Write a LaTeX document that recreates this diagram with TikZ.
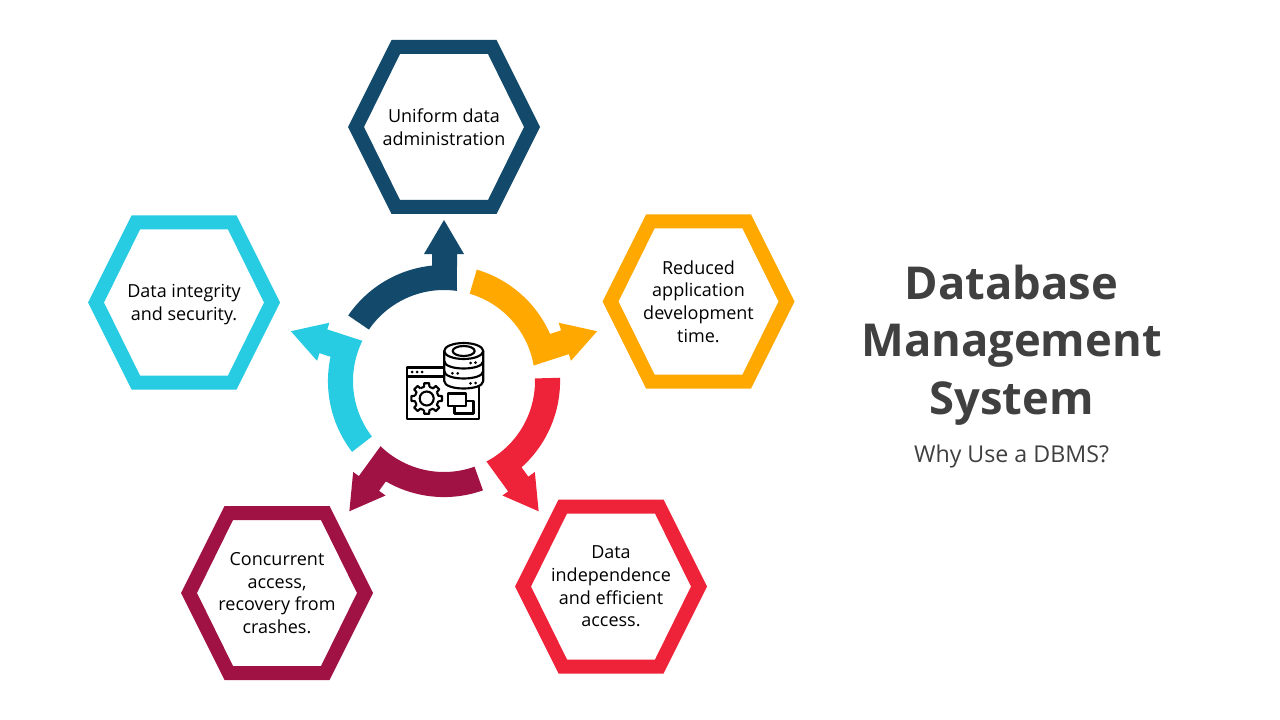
\documentclass[tikz,border=0pt]{standalone}
\usepackage{fontspec}
\setmainfont{Open Sans}
\definecolor{cblue}{HTML}{134A6C}
\definecolor{corange}{HTML}{FFA800}
\definecolor{cred}{HTML}{EE2339}
\definecolor{cmaroon}{HTML}{A01244}
\definecolor{ccyan}{HTML}{27CCE3}
\definecolor{ctext}{HTML}{404040}
\tikzset{
  hexlabel/.style={align=center,text=black,font=\fontsize{13.5}{17}\selectfont,inner sep=0pt},
  titlelabel/.style={align=center,text=ctext,font=\fontsize{34}{43.2}\selectfont\bfseries,inner sep=0pt},
  sublabel/.style={text=ctext,font=\fontsize{17.4}{20}\selectfont,inner sep=0pt},
  iconline/.style={draw=black,line width=1.6pt,line join=round},
  icondot/.style={fill=black,draw=none}
}
\newcommand\hexring[6][0]{% text offset, name, cx, cy, colour, text
  \fill[#5,even odd rule,shift={(#3,#4)}]
    (-96,0)--(-52.5,-87)--(52.5,-87)--(96,0)--(52.5,87)--(-52.5,87)--cycle
    (-80,0)--(-44,-73)--(44,-73)--(80,0)--(44,73)--(-44,73)--cycle;
  \node[hexlabel] (#2) at (#3,#4+#1) {#6};
}
\newcommand\ringarrow[2]{% rotation, colour
  \begin{scope}[shift={(444,381)},y=0.75pt,rotate=#1]
    \fill[#2] (145.6:91) arc[start angle=145.6,end angle=81.8,radius=91]
      -- (13,127) -- (20,127) -- (0,161) -- (-20,127) -- (-12,127) -- (-12,115.4)
      arc[start angle=95.9,end angle=145.6,radius=116] -- cycle;
  \end{scope}
}
\begin{document}
\begin{tikzpicture}[x=0.75pt,y=-0.75pt]
\useasboundingbox (0,0) rectangle (1280,720);
\fill[white] (0,0) rectangle (1280,720);
\hexring[0.5]{uniform}{444}{127}{cblue}{Uniform data\\administration}
\hexring{reduced}{698.5}{301.5}{corange}{Reduced\\application\\development\\time.}
\hexring{independence}{611}{586.5}{cred}{Data\\independence\\and efficient\\access.}
\hexring{concurrent}{277}{593}{cmaroon}{Concurrent\\access,\\recovery from\\crashes.}
\hexring[2]{integrity}{184}{302.5}{ccyan}{Data integrity\\and security.}
\ringarrow{0}{cblue}
\ringarrow{-72}{corange}
\ringarrow{-144}{cred}
\ringarrow{-216}{cmaroon}
\ringarrow{-288}{ccyan}
% icon
\draw[iconline] (444,367.5) -- (407,367.5) -- (407,419) -- (479,419) -- (479,386);
\draw[iconline] (407,376.5) -- (444,376.5);
\foreach \x in {412,417,422} \fill[icondot] (\x,372) circle (1.5);
\begin{scope}[shift={(426.7,398.5)},y=0.75pt]
  \draw[iconline] (0,0) circle (7);
  \foreach \a in {0,45,...,315} {
    \draw[iconline] (\a-13:12) -- (\a-9:15.5) -- (\a+9:15.5) -- (\a+13:12)
      arc[start angle=\a+13,end angle=\a+32,radius=12];
  }
\end{scope}
\draw[iconline] (448,393.5) rectangle (466,406);
\draw[iconline] (466,401) -- (473.5,401) -- (473.5,413.5) -- (454.5,413.5) -- (454.5,406);
\filldraw[iconline,fill=white] (444.2,351) -- (444.2,381) .. controls (444.2,391) and (483.2,391) .. (483.2,381) -- (483.2,351) -- cycle;
\filldraw[iconline,fill=white] (463.7,351) ellipse (19.5 and 8);
\draw[iconline] (463.7,351) ellipse (11 and 5);
\draw[iconline] (444.2,361) .. controls (444.2,371) and (483.2,371) .. (483.2,361);
\draw[iconline] (444.2,371) .. controls (444.2,381) and (483.2,381) .. (483.2,371);
\foreach \p in {(470.7,363),(475.5,362.7),(452.3,373.3),(457.7,373.3),(470.5,383.3),(475.5,383)} \fill[icondot] \p circle (1.5);
% title
\node[titlelabel] (title) at (1011.5,345) {Database\\Management\\System};
\node[sublabel] (subtitle) at (1011.5,456) {Why Use a DBMS?};
\end{tikzpicture}
\end{document}
